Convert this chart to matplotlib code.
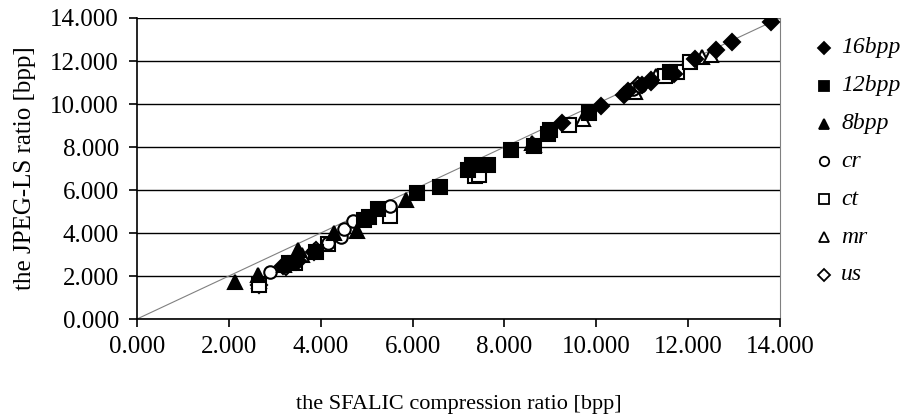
import matplotlib
matplotlib.use("Agg")
import matplotlib.pyplot as plt
from matplotlib.lines import Line2D

# SFALIC ratio (x) vs JPEG-LS ratio (y) per image class
x_16bpp = [3.18, 3.50, 3.85, 9.25, 10.10, 10.60, 10.70, 11.00, 11.20, 11.70, 12.15, 12.60, 12.95, 13.80]
y_16bpp = [2.45, 2.70, 3.10, 9.10, 9.90, 10.40, 10.60, 10.90, 11.10, 11.40, 12.10, 12.50, 12.90, 13.80]

x_12bpp = [3.30, 3.90, 4.95, 5.05, 5.25, 6.10, 6.60, 7.20, 7.30, 7.65, 8.15, 8.65, 8.95, 9.00, 9.85, 11.60]
y_12bpp = [2.60, 3.10, 4.60, 4.75, 5.10, 5.85, 6.15, 6.95, 7.15, 7.15, 7.85, 8.05, 8.60, 8.80, 9.60, 11.50]

x_8bpp = [2.13, 2.63, 3.20, 3.50, 4.30, 4.78, 5.85, 8.60]
y_8bpp = [1.72, 2.05, 2.50, 3.20, 4.00, 4.10, 5.55, 8.20]

x_cr = [2.90, 3.30, 4.15, 4.45, 4.50, 4.70, 5.50, 10.80, 10.95]
y_cr = [2.20, 2.60, 3.55, 3.80, 4.20, 4.55, 5.25, 10.70, 10.85]

x_ct = [2.65, 3.45, 4.15, 5.50, 7.35, 7.45, 9.40, 11.50, 11.75, 12.05]
y_ct = [1.60, 2.60, 3.50, 4.80, 6.65, 6.70, 9.00, 11.30, 11.50, 11.95]

x_mr = [2.65, 3.60, 8.65, 9.70, 10.85, 11.30, 12.30, 12.50]
y_mr = [1.75, 3.00, 8.10, 9.30, 10.55, 11.30, 12.20, 12.30]

x_us = [2.65, 3.25, 3.90, 10.90, 11.20]
y_us = [1.60, 2.40, 3.20, 10.90, 11.00]

ticks = [0, 2, 4, 6, 8, 10, 12, 14]

series = [
    ("16bpp", x_16bpp, y_16bpp, "D", "black", 8.5),
    ("12bpp", x_12bpp, y_12bpp, "s", "black", 10),
    ("8bpp", x_8bpp, y_8bpp, "^", "black", 10),
    ("cr", x_cr, y_cr, "o", "white", 9),
    ("ct", x_ct, y_ct, "s", "white", 10),
    ("mr", x_mr, y_mr, "^", "white", 10),
    ("us", x_us, y_us, "D", "white", 8.5),
]

plt.rcParams["font.family"] = ["Liberation Serif", "DejaVu Serif"]
FS = 18

W, H = 907, 419
fig = plt.figure(figsize=(W / 100, H / 100), dpi=100)
ax = fig.add_axes([137 / W, 1 - 319 / H, 643 / W, 301 / H])

# diagonal reference
ax.plot([0, 14], [0, 14], color="#808080", linewidth=0.8, zorder=2)

# open series first, filled on top
for name, xs, ys, marker, face, ms in series[::-1]:
    ax.plot(xs, ys, linestyle="none", marker=marker, markersize=ms,
            markerfacecolor=face, markeredgecolor="black",
            markeredgewidth=1.5, zorder=3)

ax.set_xlim(0, 14)
ax.set_ylim(0, 14)
ax.set_xticks(ticks)
ax.set_yticks(ticks)
ax.set_xticklabels([f"{t:.3f}" for t in ticks], fontsize=FS)
ax.set_yticklabels([f"{t:.3f}" for t in ticks], fontsize=FS)
ax.tick_params(direction="out", length=6, width=1.2, colors="black")
ax.tick_params(axis="y", pad=7)
ax.tick_params(axis="x", pad=6)
ax.yaxis.grid(True, color="black", linewidth=1.0)
ax.set_axisbelow(True)

ax.spines["top"].set_visible(False)
ax.spines["right"].set_color("#808080")
ax.spines["left"].set_linewidth(1.2)
ax.spines["bottom"].set_linewidth(1.2)

ax.set_xlabel("the SFALIC compression ratio [bpp]", fontsize=16, labelpad=27)
ax.set_ylabel("the JPEG-LS ratio [bpp]", fontsize=FS, labelpad=10)

# legend to the right of the plot area
for i, (name, _, _, marker, face, ms) in enumerate(series):
    yy = 1 - (48 + 37.8 * i) / H
    fig.add_artist(Line2D([824 / W], [yy], linestyle="none", marker=marker,
                          markersize=ms * 0.75, markerfacecolor=face,
                          markeredgecolor="black", markeredgewidth=1.3))
    fig.text(841 / W, yy, name, fontsize=17, style="italic", va="center",
             ha="left")

plt.savefig("out.png", dpi=100)
